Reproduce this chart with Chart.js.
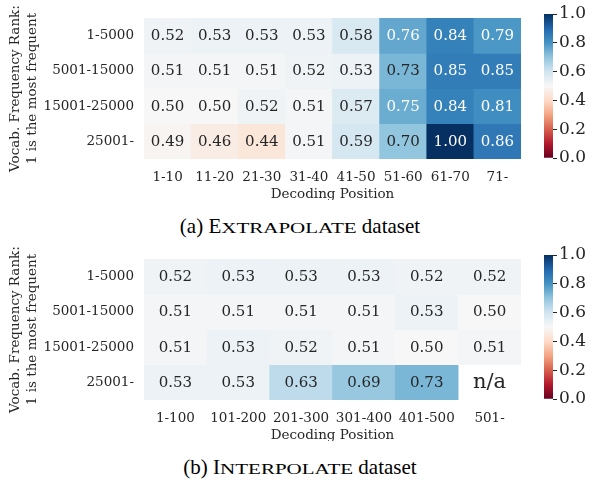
<!DOCTYPE html>
<html>
<head>
<meta charset="utf-8">
<script src="https://cdn.jsdelivr.net/npm/chart.js@4.4.1/dist/chart.umd.min.js"></script>
<style>
  html, body { margin: 0; padding: 0; background: #fff; }
  body { width: 594px; height: 480px; position: relative; overflow: hidden; }
  .box { position: absolute; }
  .cap { position: absolute; left: 100px; width: 400px; text-align: center;
         font-family: "Liberation Serif", "Times New Roman", serif; font-size: 21px;
         line-height: 21px; color: #000; white-space: nowrap; }
  .sc { display: inline-block; font-size: 21px; line-height: 21px;
        transform: scaleY(0.72); transform-origin: 50% 17.6px; }
</style>
</head>
<body>
<div class="box" style="left:0;top:0;width:530px;height:200px"><canvas id="h1" width="530" height="200"></canvas></div>
<div class="box" style="left:530px;top:0;width:64px;height:200px"><canvas id="c1" width="64" height="200"></canvas></div>
<div class="box" style="left:0;top:241px;width:530px;height:200px"><canvas id="h2" width="530" height="200"></canvas></div>
<div class="box" style="left:530px;top:241px;width:64px;height:200px"><canvas id="c2" width="64" height="200"></canvas></div>
<div class="cap" style="top:216px">(a) E<span class="sc">XTRAPOLATE</span> dataset</div>
<div class="cap" style="top:457px">(b) I<span class="sc">NTERPOLATE</span> dataset</div>
<script>
// ---- data ----
const rankLabels = ["1-5000", "5001-15000", "15001-25000", "25001-"];

const extrapPositions = ["1-10", "11-20", "21-30", "31-40", "41-50", "51-60", "61-70", "71-"];
const extrapRank1to5000     = [0.52, 0.53, 0.53, 0.53, 0.58, 0.76, 0.84, 0.79];
const extrapRank5001to15000 = [0.51, 0.51, 0.51, 0.52, 0.53, 0.73, 0.85, 0.85];
const extrapRank15001to25000= [0.50, 0.50, 0.52, 0.51, 0.57, 0.75, 0.84, 0.81];
const extrapRank25001plus   = [0.49, 0.46, 0.44, 0.51, 0.59, 0.70, 1.00, 0.86];

const interpPositions = ["1-100", "101-200", "201-300", "301-400", "401-500", "501-"];
const interpRank1to5000     = [0.52, 0.53, 0.53, 0.53, 0.52, 0.52];
const interpRank5001to15000 = [0.51, 0.51, 0.51, 0.51, 0.53, 0.50];
const interpRank15001to25000= [0.51, 0.53, 0.52, 0.51, 0.50, 0.51];
const interpRank25001plus   = [0.53, 0.53, 0.63, 0.69, 0.73, null];

const colorbarTicks = [0, 0.2, 0.4, 0.6, 0.8, 1.0];

// ---- colormap (RdBu, vmin 0, vmax 1) ----
const RDBU = [[103,0,31],[178,24,43],[214,96,77],[244,165,130],[253,219,199],[247,247,247],
              [209,229,240],[146,197,222],[67,147,195],[33,102,172],[5,48,97]];
function rdbuRGB(v) {
  v = Math.max(0, Math.min(1, v));
  const p = v * 10, i = Math.min(9, Math.floor(p)), t = p - i;
  const a = RDBU[i], b = RDBU[i + 1];
  return [0,1,2].map(k => a[k] + (b[k] - a[k]) * t);
}
function rgbStr(c) { return `rgb(${Math.round(c[0])},${Math.round(c[1])},${Math.round(c[2])})`; }
function lum(c) {
  const lin = c.map(x => { x /= 255; return x <= 0.03928 ? x / 12.92 : Math.pow((x + 0.055) / 1.055, 2.4); });
  return 0.2126 * lin[0] + 0.7152 * lin[1] + 0.0722 * lin[2];
}

const SERIF = "'DejaVu Serif', serif";
const INK = "#262626";
const TICK_SIZE = 13.5;

function heatmap(id, cols, rowsVals) {
  const datasets = rowsVals.map((vals, ri) => ({
    label: rankLabels[ri],
    data: vals.map(v => v == null ? null : [ri, ri + 1]),
    backgroundColor: vals.map(v => v == null ? 'rgba(0,0,0,0)' : rgbStr(rdbuRGB(v))),
    borderWidth: 0,
    barPercentage: 1,
    categoryPercentage: 1,
    grouped: false
  }));
  const annot = {
    id: 'annot',
    afterDatasetsDraw(chart) {
      const ctx = chart.ctx;
      ctx.save();
      ctx.textAlign = 'center';
      ctx.textBaseline = 'middle';
      rowsVals.forEach((vals, ri) => {
        const meta = chart.getDatasetMeta(ri);
        vals.forEach((v, ci) => {
          if (v == null) {
            const x = chart.scales.x.getPixelForValue(ci);
            const y = chart.scales.y.getPixelForValue(ri + 0.5);
            ctx.font = "21px " + SERIF;
            ctx.fillStyle = INK;
            ctx.fillText("n/a", x, y);
            return;
          }
          const p = meta.data[ci].getCenterPoint();
          ctx.font = "15px " + SERIF;
          ctx.fillStyle = lum(rdbuRGB(v)) > 0.408 ? INK : "#ffffff";
          ctx.fillText(v.toFixed(2), p.x, p.y + 0.5);
        });
      });
      ctx.restore();
    }
  };
  return new Chart(document.getElementById(id), {
    type: 'bar',
    data: { labels: cols, datasets },
    options: {
      responsive: false,
      animation: false,
      layout: { padding: { top: 16, right: 9, left: 0, bottom: 0 } },
      plugins: { legend: { display: false }, tooltip: { enabled: false } },
      scales: {
        x: {
          type: 'category',
          grid: { display: false, drawTicks: false },
          border: { display: false },
          ticks: { font: { family: SERIF, size: TICK_SIZE }, color: INK, padding: 10, maxRotation: 0, autoSkip: false },
          title: { display: true, text: "Decoding Position", font: { family: SERIF, size: TICK_SIZE }, color: INK,
                   padding: { top: 0, bottom: -3 } },
          afterFit: s => { s.height = 41; }
        },
        y: {
          type: 'linear', min: 0, max: 4, reverse: true,
          grid: { display: false, drawTicks: false },
          border: { display: false },
          afterBuildTicks: s => { s.ticks = [0.5, 1.5, 2.5, 3.5].map(v => ({ value: v })); },
          ticks: { font: { family: SERIF, size: TICK_SIZE }, color: INK, padding: 10,
                   callback: (v, i) => rankLabels[i] },
          title: { display: true, text: ["Vocab. Frequency Rank:", "1 is the most frequent"],
                   font: { family: SERIF, size: TICK_SIZE, lineHeight: 1.26 }, color: INK,
                   padding: { top: 7, bottom: 0 } },
          afterFit: s => { s.width = 144; }
        }
      }
    },
    plugins: [annot]
  });
}

function colorbar(id) {
  return new Chart(document.getElementById(id), {
    type: 'bar',
    data: {
      labels: ['cb'],
      datasets: [{
        data: [[0, 1]],
        backgroundColor: (c) => {
          const a = c.chart.chartArea;
          if (!a) return 'rgba(0,0,0,0)';
          const g = c.chart.ctx.createLinearGradient(0, a.bottom, 0, a.top);
          RDBU.forEach((col, i) => g.addColorStop(i / 10, rgbStr(col)));
          return g;
        },
        borderWidth: 0, barPercentage: 1, categoryPercentage: 1
      }]
    },
    options: {
      responsive: false,
      animation: false,
      layout: { padding: { top: 14, bottom: 42, left: 14, right: 0 } },
      plugins: { legend: { display: false }, tooltip: { enabled: false } },
      scales: {
        x: { display: false },
        y: {
          position: 'right', min: 0, max: 1,
          afterBuildTicks: s => { s.ticks = colorbarTicks.map(v => ({ value: v })); },
          grid: { drawOnChartArea: false, drawTicks: true, tickLength: 4, tickColor: INK, tickWidth: 1 },
          border: { display: false },
          ticks: { font: { family: SERIF, size: 17 }, color: INK, padding: 2, callback: v => v.toFixed(1) },
          afterFit: s => { s.width = 41; }
        }
      }
    }
  });
}

heatmap('h1', extrapPositions, [extrapRank1to5000, extrapRank5001to15000, extrapRank15001to25000, extrapRank25001plus]);
heatmap('h2', interpPositions, [interpRank1to5000, interpRank5001to15000, interpRank15001to25000, interpRank25001plus]);
colorbar('c1');
colorbar('c2');
</script>
</body>
</html>
